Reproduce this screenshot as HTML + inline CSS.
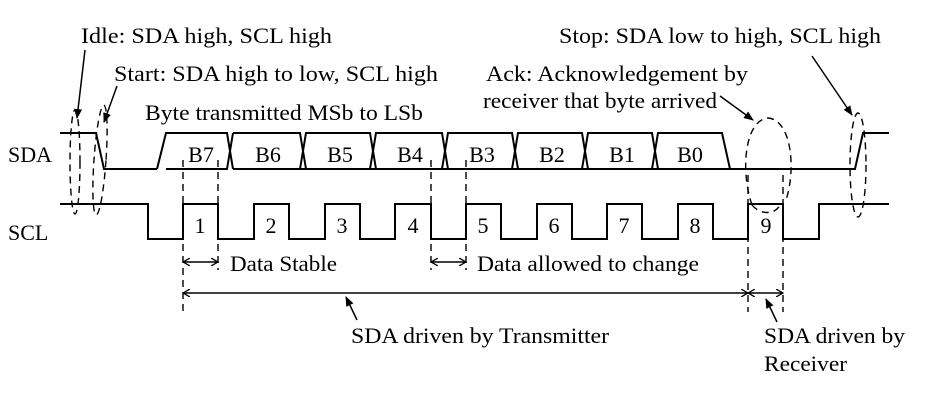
<!DOCTYPE html>
<html><head><meta charset="utf-8"><style>html,body{margin:0;padding:0;background:#fff}svg{display:block}</style></head>
<body>
<svg width="930" height="405" viewBox="0 0 930 405" xmlns="http://www.w3.org/2000/svg" font-family="Liberation Serif, serif" font-size="22" fill="#000">
<defs>
<marker id="ah" markerWidth="10" markerHeight="8" refX="9" refY="4" orient="auto" markerUnits="userSpaceOnUse"><path d="M0,0 L10,4 L0,8 Z" fill="#000"/></marker>
<marker id="as" markerWidth="8" markerHeight="8" refX="7" refY="4" orient="auto-start-reverse" markerUnits="userSpaceOnUse"><path d="M0,0 L7,4 L0,8" fill="none" stroke="#000" stroke-width="1.3"/></marker>
</defs>
<g fill="none" stroke="#000" stroke-width="2">
<polyline points="60,133 96,133 104,169 157,169"/>
<path d="M157,169 L166,133 L227,133 L233,169 M166,169 L227,169 L233,133"/>
<path d="M233,133 L300,133 L306,169 L233,169 M300,169 L306,133 L370,133 L376,169 L306,169 M370,169 L376,133 L442,133 L448,169 L376,169 M442,169 L448,133 L512,133 L518,169 L448,169 M512,169 L518,133 L582,133 L588,169 L518,169 M582,169 L588,133 L652,133 L658,169 L588,169 M652,169 L658,133 L722,133 L730,169 L658,169"/>
<polyline points="730,169 855,169 863,133 889,133"/>
<polyline points="60,204 148,204 148,239 183,239 183,204 218,204 218,239 254,239 254,204 289,204 289,239 325,239 325,204 360,204 360,239 395,239 395,204 431,204 431,239 466,239 466,204 501,204 501,239 537,239 537,204 572,204 572,239 607,239 607,204 642,204 642,239 678,239 678,204 713,204 713,239 748,239 748,204 783,204 783,239 819,239 819,204 889,204"/>
</g>
<g fill="none" stroke="#000" stroke-width="1.4" stroke-dasharray="7,5">
<line x1="183" y1="160" x2="183" y2="312"/>
<line x1="218" y1="160" x2="218" y2="270"/>
<line x1="431" y1="160" x2="431" y2="270"/>
<line x1="466" y1="160" x2="466" y2="270"/>
<line x1="748" y1="175" x2="748" y2="312"/>
<line x1="783" y1="175" x2="783" y2="312"/>
<ellipse cx="75" cy="162" rx="5" ry="52"/>
<ellipse cx="100" cy="160" rx="6" ry="55" transform="rotate(4 100 160)"/>
<path d="M752,205 C740,170 745,120 768,118 C792,120 796,170 786,200 M752,205 C760,215 775,215 780,205"/>
<ellipse cx="858" cy="165" rx="8" ry="52"/>
</g>
<g stroke="#000" stroke-width="1.5" fill="none">
<line x1="183" y1="262" x2="218" y2="262" marker-start="url(#as)" marker-end="url(#as)"/>
<line x1="431" y1="262" x2="466" y2="262" marker-start="url(#as)" marker-end="url(#as)"/>
<line x1="183" y1="293" x2="748" y2="293" marker-start="url(#as)" marker-end="url(#as)"/>
<line x1="748" y1="293" x2="783" y2="293" marker-start="url(#as)" marker-end="url(#as)"/>
<line x1="85" y1="50" x2="77" y2="118" marker-end="url(#ah)"/>
<line x1="117" y1="86" x2="104" y2="122" marker-end="url(#ah)"/>
<line x1="720" y1="96" x2="753" y2="120" marker-end="url(#ah)"/>
<line x1="812" y1="56" x2="852" y2="115" marker-end="url(#ah)"/>
<line x1="357" y1="320" x2="346" y2="297" marker-end="url(#ah)"/>
<line x1="777" y1="322" x2="766" y2="299" marker-end="url(#ah)"/>
</g>
<g>
<text x="81" y="43" textLength="251" lengthAdjust="spacingAndGlyphs">Idle: SDA high, SCL high</text>
<text x="114" y="81" textLength="324" lengthAdjust="spacingAndGlyphs">Start: SDA high to low, SCL high</text>
<text x="145" y="120" textLength="278" lengthAdjust="spacingAndGlyphs">Byte transmitted MSb to LSb</text>
<text x="559" y="43" textLength="322" lengthAdjust="spacingAndGlyphs">Stop: SDA low to high, SCL high</text>
<text x="486" y="81" textLength="262" lengthAdjust="spacingAndGlyphs">Ack: Acknowledgement by</text>
<text x="483" y="108" textLength="234" lengthAdjust="spacingAndGlyphs">receiver that byte arrived</text>
<text x="8" y="162">SDA</text>
<text x="8" y="240">SCL</text>
<g text-anchor="middle">
<text x="201" y="162">B7</text><text x="268" y="162">B6</text><text x="340" y="162">B5</text><text x="410" y="162">B4</text>
<text x="482" y="162">B3</text><text x="552" y="162">B2</text><text x="622" y="162">B1</text><text x="690" y="162">B0</text>
<text x="200" y="233">1</text><text x="271" y="233">2</text><text x="342" y="233">3</text><text x="413" y="233">4</text>
<text x="483" y="233">5</text><text x="554" y="233">6</text><text x="624" y="233">7</text><text x="695" y="233">8</text><text x="766" y="233">9</text>
</g>
<text x="230" y="271" textLength="107" lengthAdjust="spacingAndGlyphs">Data Stable</text>
<text x="477" y="271" textLength="222" lengthAdjust="spacingAndGlyphs">Data allowed to change</text>
<text x="351" y="343" textLength="258" lengthAdjust="spacingAndGlyphs">SDA driven by Transmitter</text>
<text x="764" y="343" textLength="141" lengthAdjust="spacingAndGlyphs">SDA driven by</text>
<text x="764" y="371" textLength="83" lengthAdjust="spacingAndGlyphs">Receiver</text>
</g>
</svg>
</body></html>
